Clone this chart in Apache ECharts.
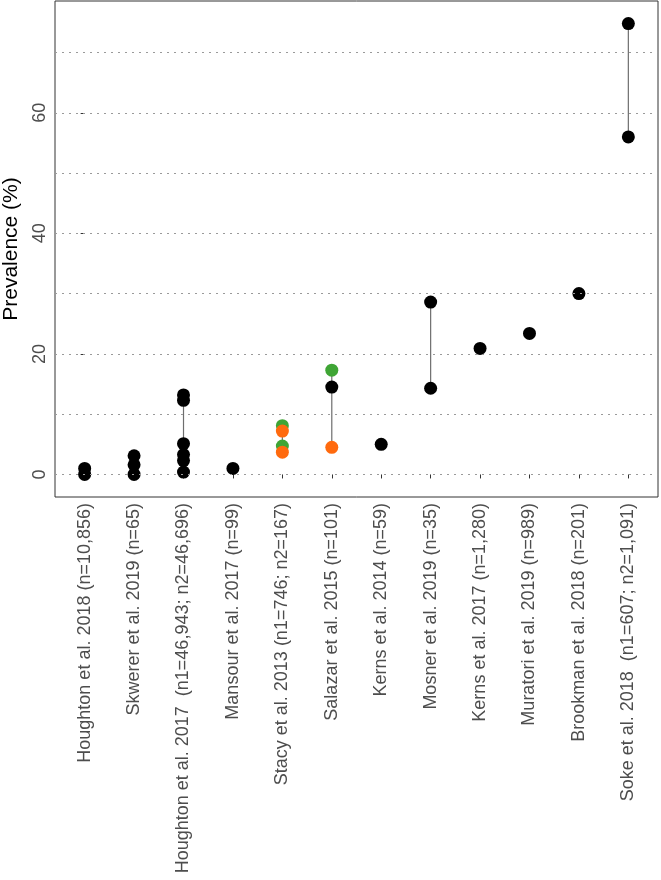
<!DOCTYPE html>
<html><head><meta charset="utf-8">
<script src="https://cdn.jsdelivr.net/npm/echarts@6/dist/echarts.min.js"></script>
<style>html,body{margin:0;padding:0;background:#fff}#c{width:661px;height:880px}</style>
</head><body><div id="c"></div>
<script>
const categories = [
  'Houghton et al. 2018 (n=10,856)',
  'Skwerer et al. 2019 (n=65)',
  'Houghton et al. 2017  (n1=46,943; n2=46,696)',
  'Mansour et al. 2017 (n=99)',
  'Stacy et al. 2013 (n1=746; n2=167)',
  'Salazar et al. 2015 (n=101)',
  'Kerns et al. 2014 (n=59)',
  'Mosner et al. 2019 (n=35)',
  'Kerns et al. 2017 (n=1,280)',
  'Muratori et al. 2019 (n=989)',
  'Brookman et al. 2018 (n=201)',
  'Soke et al. 2018  (n1=607; n2=1,091)'
];
// [category index, prevalence %]
const blackPoints = [
  [0, 0.0], [0, 1.0],
  [1, 0.0], [1, 1.6], [1, 3.1],
  [2, 0.4], [2, 2.3], [2, 3.3], [2, 5.1], [2, 12.3], [2, 13.2],
  [3, 1.0],
  [5, 14.5],
  [6, 5.0],
  [7, 14.3], [7, 28.6],
  [8, 20.9],
  [9, 23.4],
  [10, 30.0],
  [11, 56.0], [11, 74.8]
];
const greenPoints = [[4, 8.1], [4, 4.7], [5, 17.3]];
const orangePoints = [[4, 7.2], [4, 3.7], [5, 4.5]];
const yTickLabels = [0, 20, 40, 60];
const gridValues = [0, 10, 20, 30, 40, 50, 60, 70];

const idx = categories.map((_, i) => i);
const allPts = blackPoints.concat(greenPoints, orangePoints);
const ranges = idx.map(i => {
  const vs = allPts.filter(p => p[0] === i).map(p => p[1]);
  return [i, Math.min(...vs), Math.max(...vs)];
}).filter(r => r[2] > r[1]);

const FONT = 'Liberation Sans';
const chart = echarts.init(document.getElementById('c'), null, {renderer: 'canvas'});
chart.setOption({
  animation: false,
  backgroundColor: '#fff',
  grid: {left: 55, right: 3, top: 1, bottom: 383, containLabel: false, outerBoundsMode: 'none',
    show: true, borderColor: '#333', borderWidth: 1, backgroundColor: 'transparent'},
  xAxis: {
    type: 'value', min: -0.6, max: 11.6,
    axisLine: {show: false}, splitLine: {show: false},
    axisTick: {show: true, customValues: idx, length: 4, lineStyle: {color: '#333', width: 1}},
    axisLabel: {customValues: idx, rotate: 90, formatter: v => categories[v], fontSize: 18, color: '#4d4d4d', fontFamily: FONT, margin: 6}
  },
  yAxis: {
    type: 'value', min: -3.74, max: 78.54,
    name: 'Prevalence (%)', nameLocation: 'middle', nameGap: 33,
    nameTextStyle: {fontSize: 21, color: '#000', fontFamily: FONT},
    axisLine: {show: false}, splitLine: {show: false},
    axisTick: {show: true, customValues: yTickLabels, length: 4, lineStyle: {color: '#333', width: 1}},
    axisLabel: {customValues: yTickLabels, rotate: 90, fontSize: 18, color: '#4d4d4d', fontFamily: FONT, margin: 6}
  },
  series: [
    {
      type: 'scatter', data: [], z: 1, silent: true,
      markLine: {
        silent: true, symbol: ['none', 'none'], label: {show: false},
        lineStyle: {color: '#9a9a9a', width: 1, type: [2, 5]},
        data: gridValues.map(v => ({yAxis: v}))
      }
    },
    {
      type: 'custom', z: 2, silent: true, data: ranges,
      encode: {x: 0, y: [1, 2]},
      renderItem: (params, api) => {
        const x = api.value(0);
        const p1 = api.coord([x, api.value(1)]);
        const p2 = api.coord([x, api.value(2)]);
        return {type: 'line', shape: {x1: p1[0], y1: p1[1], x2: p2[0], y2: p2[1]}, style: {stroke: '#6e6e6e', lineWidth: 1.2}};
      }
    },
    {type: 'scatter', z: 3, symbolSize: 13, data: blackPoints, itemStyle: {color: '#000', opacity: 1}},
    {type: 'scatter', z: 4, symbolSize: 13, data: greenPoints, itemStyle: {color: '#3fa535', opacity: 1}},
    {type: 'scatter', z: 5, symbolSize: 13, data: orangePoints, itemStyle: {color: '#ff6a0e', opacity: 1}}
  ]
});
</script></body></html>
